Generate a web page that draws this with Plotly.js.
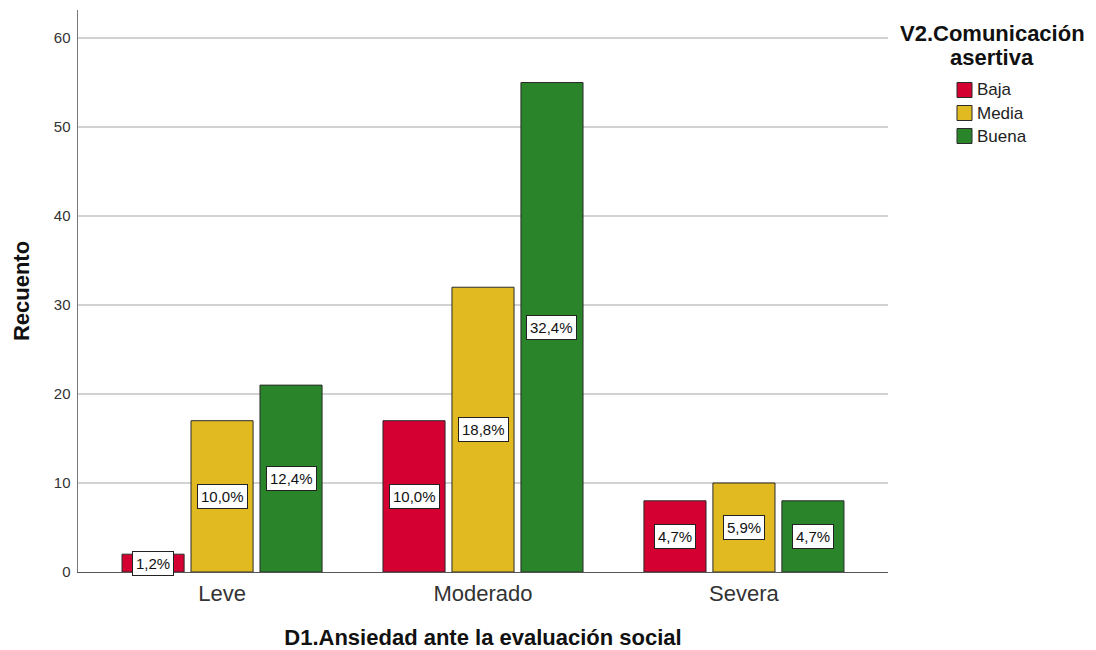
<!DOCTYPE html>
<html>
<head>
<meta charset="utf-8">
<script src="https://cdn.plot.ly/plotly-3.0.1.min.js"></script>
<style>html,body{margin:0;padding:0;background:#fff;}#chart{width:1096px;height:650px;}</style>
</head>
<body>
<div id="chart"></div>
<script>
const categories = ["Leve", "Moderado", "Severa"];
const seriesNames = ["Baja", "Media", "Buena"];
const baja = [2, 17, 8];
const media = [17, 32, 10];
const buena = [21, 55, 8];
const bajaPct = ["1,2%", "10,0%", "4,7%"];
const mediaPct = ["10,0%", "18,8%", "5,9%"];
const buenaPct = ["12,4%", "32,4%", "4,7%"];
const yTicks = [0, 10, 20, 30, 40, 50, 60];
const legendTitleLines = ["V2.Comunicación", "asertiva"];

const colors = ["#d50032", "#e0ba20", "#2a852a"];
const values = [baja, media, buena];
const pcts = [bajaPct, mediaPct, buenaPct];
const bargap = 0.207, bargroupgap = 0.1;
const font = "Liberation Sans, Arial, sans-serif";

const W = 1096, H = 650;
const M = {l: 78, r: 208, t: 10, b: 78};
const PW = W - M.l - M.r, PH = H - M.t - M.b;
const px = v => (v - M.l) / PW;
const py = v => (H - M.b - v) / PH;

const traces = values.map((v, j) => ({
  type: "bar",
  name: seriesNames[j],
  x: categories,
  y: v,
  marker: {color: colors[j], line: {color: "#2b2b2b", width: 1}},
  hoverinfo: "skip",
  showlegend: false
}));

const slot = (1 - bargap) / values.length;
const annotations = [];
const shapes = [];
values.forEach((v, j) => {
  v.forEach((val, i) => {
    annotations.push({
      x: i + (j - (values.length - 1) / 2) * slot,
      y: val / 2,
      xref: "x", yref: "y",
      text: pcts[j][i],
      showarrow: false,
      bgcolor: "#ffffff",
      bordercolor: "#222222",
      borderwidth: 1,
      borderpad: 3,
      font: {family: font, size: 15, color: "#111"}
    });
  });
});
legendTitleLines.forEach((t, k) => {
  annotations.push({
    xref: "paper", yref: "paper",
    x: px(992), y: py(33 + k * 24),
    xanchor: "center", yanchor: "middle",
    text: "<b>" + t + "</b>",
    showarrow: false,
    font: {family: font, size: 22, color: "#111"}
  });
});
seriesNames.forEach((name, j) => {
  const cy = 90 + j * 23;
  shapes.push({
    type: "rect", xref: "paper", yref: "paper",
    x0: px(957), x1: px(972), y0: py(cy + 7.5), y1: py(cy - 7.5),
    fillcolor: colors[j], line: {color: "#2b2b2b", width: 1}
  });
  annotations.push({
    xref: "paper", yref: "paper",
    x: px(975), y: py(cy),
    xanchor: "left", yanchor: "middle",
    text: name, showarrow: false,
    font: {family: font, size: 17, color: "#222"}
  });
});

const layout = {
  width: W, height: H,
  margin: M,
  paper_bgcolor: "#fff", plot_bgcolor: "#fff",
  barmode: "group",
  bargap: bargap, bargroupgap: bargroupgap,
  font: {family: font, color: "#222"},
  xaxis: {
    type: "category",
    range: [-0.552, 2.552],
    showgrid: false,
    showline: true, linecolor: "#555", linewidth: 1,
    ticks: "",
    ticklabelstandoff: 2,
    tickfont: {family: font, size: 22, color: "#333"},
    title: {text: "<b>D1.Ansiedad ante la evaluación social</b>", font: {family: font, size: 22, color: "#111"}, standoff: 24},
    zeroline: false
  },
  yaxis: {
    range: [0, 63.15],
    tickvals: yTicks,
    showgrid: true, gridcolor: "#d2d2d2", gridwidth: 1.5,
    showline: true, linecolor: "#777", linewidth: 1.5,
    ticks: "",
    ticklabelstandoff: 3,
    tickfont: {family: font, size: 15, color: "#333"},
    title: {text: "<b>Recuento</b>", font: {family: font, size: 22, color: "#111"}, standoff: 18},
    zeroline: false
  },
  showlegend: false,
  annotations: annotations,
  shapes: shapes
};

Plotly.newPlot("chart", traces, layout, {displayModeBar: false, staticPlot: true});
</script>
</body>
</html>
